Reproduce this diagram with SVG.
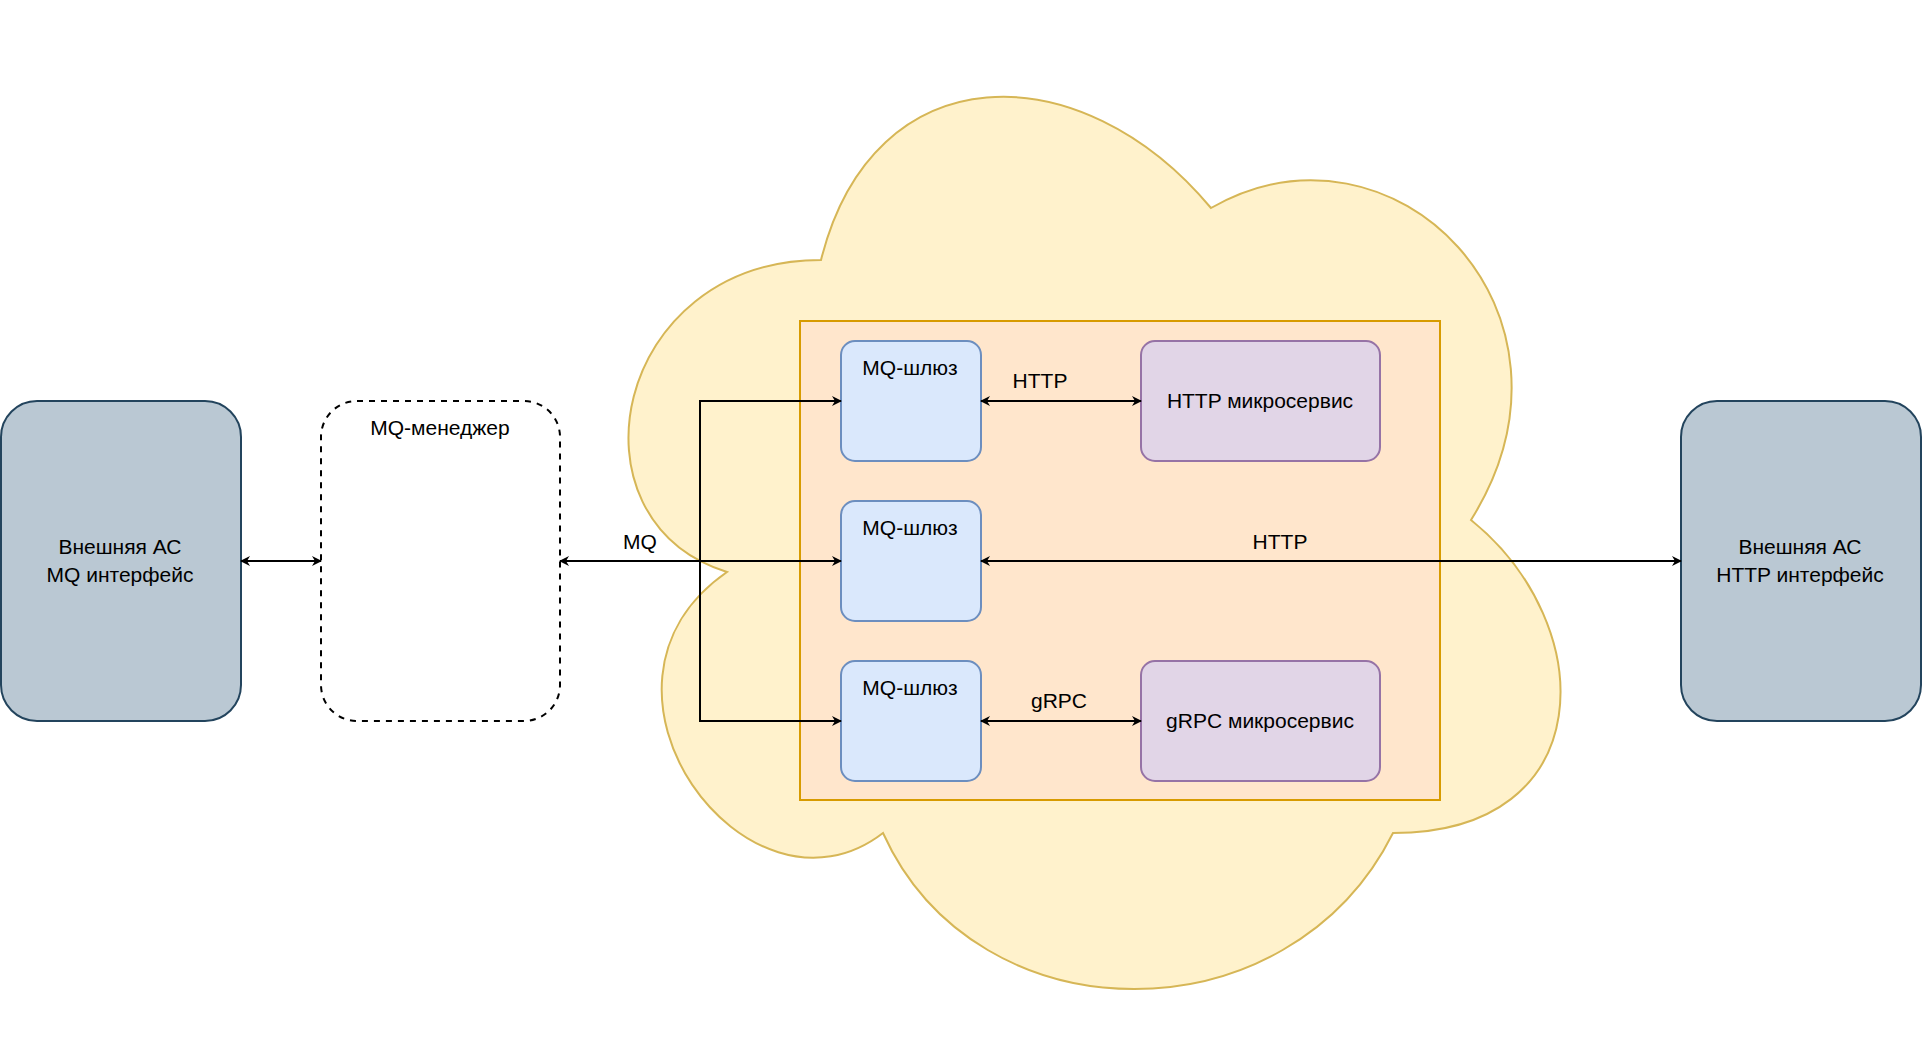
<svg xmlns="http://www.w3.org/2000/svg" width="1922" height="1042" viewBox="0 0 1922 1042">
<defs>
<style>
text{font-family:"Liberation Sans",Arial,sans-serif;font-size:21px;fill:#000;text-anchor:middle}
.ext{fill:#bac8d3;stroke:#23445d;stroke-width:2}
.gw{fill:#dae8fc;stroke:#6c8ebf;stroke-width:2}
.ms{fill:#e1d5e7;stroke:#9673a6;stroke-width:2}
.c{fill:none;stroke:#000;stroke-width:2;marker-start:url(#a);marker-end:url(#a)}
</style>
<marker id="a" viewBox="0 0 10 10" refX="9" refY="5" markerWidth="10" markerHeight="10" markerUnits="userSpaceOnUse" orient="auto-start-reverse">
<path d="M0,0 L10,5 L0,10 L3,5 Z" fill="#000"/>
</marker>
</defs>
<g id="cloud"><path d="M821,260 C613,260 561,520 727,572 C561,687 748,937 883,833 C977,1041 1289,1041 1393,833 C1601,833 1601,625 1471,520 C1601,312 1393,104 1211,208 C1081,52 873,52 821,260 Z" fill="#fff2cc" stroke="#d6b656" stroke-width="2"/></g>
<g id="container"><rect x="800" y="321" width="640" height="479" fill="#ffe6cc" stroke="#d79b00" stroke-width="2"/></g>
<g id="ext-mq"><rect class="ext" x="1" y="401" width="240" height="320" rx="36"/><text x="120" y="554">Внешняя АС</text><text x="120" y="582">MQ интерфейс</text></g>
<g id="mq-manager"><rect x="321" y="401" width="239" height="320" rx="36" fill="#fff" stroke="#000" stroke-width="2" stroke-dasharray="6 6"/><text x="440" y="435">MQ-менеджер</text></g>
<g id="gw1"><rect class="gw" x="841" y="341" width="140" height="120" rx="14"/><text x="910" y="375">MQ-шлюз</text></g>
<g id="gw2"><rect class="gw" x="841" y="501" width="140" height="120" rx="14"/><text x="910" y="535">MQ-шлюз</text></g>
<g id="gw3"><rect class="gw" x="841" y="661" width="140" height="120" rx="14"/><text x="910" y="695">MQ-шлюз</text></g>
<g id="http-ms"><rect class="ms" x="1141" y="341" width="239" height="120" rx="14"/><text x="1260" y="408">HTTP микросервис</text></g>
<g id="grpc-ms"><rect class="ms" x="1141" y="661" width="239" height="120" rx="14"/><text x="1260" y="728">gRPC микросервис</text></g>
<g id="ext-http"><rect class="ext" x="1681" y="401" width="240" height="320" rx="36"/><text x="1800" y="554">Внешняя АС</text><text x="1800" y="582">HTTP интерфейс</text></g>
<g id="connectors">
<path class="c" d="M241,561 H321"/>
<path class="c" d="M560,561 H841"/>
<path class="c" d="M841,401 H700 V721 H841"/>
<path class="c" d="M981,401 H1141"/>
<path class="c" d="M981,561 H1681"/>
<path class="c" d="M981,721 H1141"/>
<text x="640" y="549">MQ</text>
<text x="1040" y="388">HTTP</text>
<text x="1280" y="549">HTTP</text>
<text x="1059" y="708">gRPC</text>
</g>
</svg>
